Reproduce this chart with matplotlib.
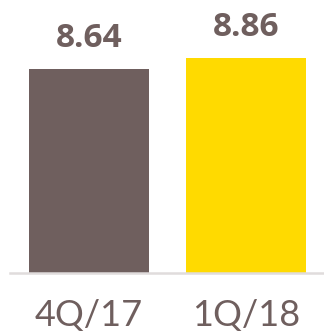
import matplotlib
matplotlib.use("Agg")
import matplotlib.pyplot as plt

quarters = ["4Q/17", "1Q/18"]
values = [8.64, 8.86]
bar_colors = ["#6f5f5e", "#ffda00"]
text_color = "#6f5f5e"

fig = plt.figure(figsize=(3.24, 3.33), dpi=100)
ax = fig.add_axes([10/324, 60/333, 314/324, 273/333])

x = range(len(values))
bars = ax.bar(x, [v - 4.56 for v in values], bottom=4.56, width=0.764,
              color=bar_colors, zorder=2)

for xi, v in zip(x, values):
    ax.text(xi, v + 0.28, f"{v:.2f}", ha="center", va="bottom",
            fontsize=24, fontweight="bold", color=text_color, family="Open Sans")

ax.set_xlim(-0.503, 1.497)
ax.set_ylim(4.56, 10.02)
ax.set_xticks(list(x))
ax.set_xticklabels(quarters, fontsize=26, color=text_color, family="Lato")
ax.tick_params(axis="x", length=0, pad=19)
ax.set_yticks([])
for s in ["top", "right", "left"]:
    ax.spines[s].set_visible(False)
ax.spines["bottom"].set_color("#e0dcdc")
ax.spines["bottom"].set_linewidth(1.8)

fig.savefig("out.png", dpi=100)
